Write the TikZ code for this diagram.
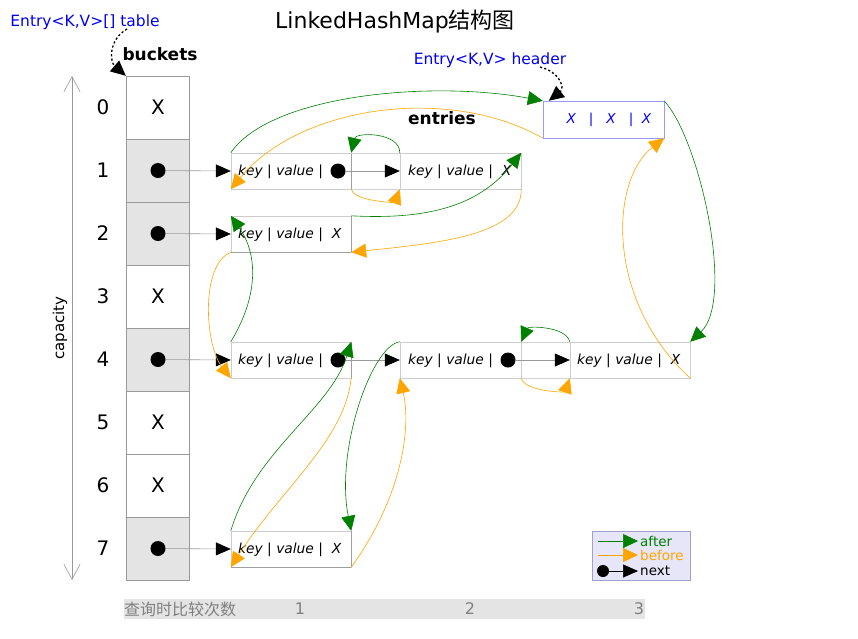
\documentclass[tikz,border=0pt]{standalone}
\usepackage{fontspec}
\setmainfont{DejaVu Sans}
\newfontfamily\cjk{Noto Sans CJK SC}
\usetikzlibrary{arrows.meta}
\definecolor{aftergreen}{HTML}{008000}
\definecolor{beforeorange}{HTML}{FFA500}
\definecolor{cellgray}{HTML}{E4E4E4}
\definecolor{linegray}{HTML}{999999}
\definecolor{txtblue}{HTML}{0000EE}
\definecolor{hdrborder}{HTML}{9999FF}
\definecolor{legendfill}{HTML}{E6E6F8}
\definecolor{legendborder}{HTML}{A0A0C8}
\definecolor{bartext}{HTML}{808080}
\tikzset{
  cell/.style={draw=linegray, fill=white, minimum width=63pt, minimum height=63pt, inner sep=0pt, font=\fontsize{20}{20}\selectfont},
  fullcell/.style={cell, fill=cellgray},
  idx/.style={inner sep=0pt, font=\fontsize{20}{20}\selectfont},
  entrybox/.style={draw=gray!40, fill=white, minimum height=36pt, minimum width=#1, inner sep=0pt},
  entrytext/.style={anchor=west, inner sep=0pt, font=\fontsize{13.8}{13.8}\selectfont\itshape},
  dotnode/.style={circle, fill=black, minimum size=15pt, inner sep=0pt},
  nextarrow/.style={draw=linegray, line width=0.6pt, -{Triangle[length=15pt,width=13pt,color=black]}},
  afterline/.style={draw=aftergreen, line width=0.6pt, -{Triangle[length=15pt,width=14pt]}},
  beforeline/.style={draw=beforeorange, line width=0.6pt, -{Triangle[length=15pt,width=14pt]}},
  dotarrow/.style={draw=black, line width=1.3pt, dash pattern=on 2.2pt off 2.2pt, -{Triangle[length=15pt,width=14pt]}},
  bluetext/.style={text=txtblue, inner sep=0pt, font=\fontsize{15.5}{15.5}\selectfont},
  boldtext/.style={inner sep=0pt, font=\fontsize{17}{17}\selectfont\bfseries},
  legtext/.style={anchor=west, inner sep=0pt, font=\fontsize{13.5}{13.5}\selectfont},
  bartxt/.style={inner sep=0pt, text=bartext, font=\fontsize{16}{16}\selectfont}
}
\begin{document}
\begin{tikzpicture}[x=1pt,y=-1pt]
\useasboundingbox (0,0) rectangle (858,638);

% title and labels
\node[inner sep=0pt, font=\fontsize{22}{22}\selectfont] (title) at (395,22) {LinkedHashMap{\cjk 结构图}};
\node[bluetext] (tbl) at (85,22) {Entry<K,V>[] table};
\node[boldtext] (buckets) at (160,54) {buckets};
\node[bluetext] (hdrlabel) at (490,60) {Entry<K,V> header};
\node[boldtext] (entries) at (442,118) {entries};

% buckets
\foreach \i/\st in {0/cell,1/fullcell,2/fullcell,3/cell,4/fullcell,5/cell,6/cell,7/fullcell}{
  \node[\st] (b\i) at (157.5,{107.5+63*\i}) {};
  \node[idx] (n\i) at (103,{107.5+63*\i}) {\i};
}
\foreach \i in {0,3,5,6}{
  \node[idx] (bx\i) at (158,{107.5+63*\i}) {X};
}
\node[dotnode] (bd1) at (158,170.5) {};
\node[dotnode] (bd2) at (158,233.5) {};
\node[dotnode] (bd4) at (158,359.5) {};
\node[dotnode] (bd7) at (158,548.5) {};

% capacity
\coordinate (captop) at (72,76);
\coordinate (capbot) at (72,580);
\draw[linegray, line width=0.6pt, {Straight Barb[length=15pt,width=16pt]}-{Straight Barb[length=15pt,width=16pt]}] (captop) -- (capbot);
\node[rotate=90, inner sep=0pt, font=\fontsize{15}{15}\selectfont] (cap) at (60,328) {capacity};

% header entry
\node[draw=hdrborder, fill=white, minimum width=121pt, minimum height=37pt, inner sep=0pt] (hdr) at (603.5,119.5) {};
\node[inner sep=0pt, text=txtblue, font=\fontsize{13.5}{13.5}\selectfont] (hdrtext) at (609,120) {\textit{X}~~~|~~~\textit{X}~~~|~~\textit{X}};

% entries
\node[entrybox=120pt] (e1a) at (291,171) {};
\node[entrybox=121pt] (e1b) at (460.5,171) {};
\node[entrybox=120pt] (e2a) at (291,234) {};
\node[entrybox=120pt] (e4a) at (291,360) {};
\node[entrybox=121pt] (e4b) at (460.5,360) {};
\node[entrybox=120pt] (e4c) at (630,360) {};
\node[entrybox=120pt] (e7a) at (291,549) {};
\foreach \e in {e1a,e2a,e4a,e7a}{
  \draw[gray!75, line width=0.8pt] (\e.north east) -- (\e.south east);
}
\draw[gray!75, line width=0.8pt] (e2a.south west) -- (e2a.south east);
\draw[gray!75, line width=0.8pt] (e7a.south west) -- (e7a.south east);
\draw[gray!35] (e1a.north east) -- (e1b.north west) (e1a.south east) -- (e1b.south west);
\draw[gray!35] (e4b.north east) -- (e4c.north west) (e4b.south east) -- (e4c.south west);

\node[entrytext] (t1a) at (238,172) {key | value |};
\node[entrytext] (t1b) at (408,172) {key | value |~~X};
\node[entrytext] (t2a) at (238,235) {key | value |~~X};
\node[entrytext] (t4a) at (238,361) {key | value |};
\node[entrytext] (t4b) at (408,361) {key | value |};
\node[entrytext] (t4c) at (577,361) {key | value |~~X};
\node[entrytext] (t7a) at (238,550) {key | value |~~X};
\node[dotnode] (d1a) at (338,171) {};
\node[dotnode] (d4a) at (338,360) {};
\node[dotnode] (d4b) at (508,360) {};

% next pointers
\draw[nextarrow] (bd1) -- (e1a.west);
\draw[nextarrow] (bd2) -- (e2a.west);
\draw[nextarrow] (bd4) -- (e4a.west);
\draw[nextarrow] (bd7) -- (e7a.west);
\draw[nextarrow] (d1a) -- (e1b.west);
\draw[nextarrow] (d4a) -- (e4b.west);
\draw[nextarrow] (d4b) -- (e4c.west);

% after chain (green)
\draw[afterline] (e1a.north west) .. controls (270,95) and (430,80) .. (hdr.north west);
\draw[afterline] (hdr.north east) .. controls (700,140) and (735,300) .. (e4c.north east);
\draw[afterline] (e4c.north west) .. controls (566,326) and (528,326) .. (e4b.north east);
\draw[afterline] (e4b.north west) .. controls (372,345) and (335,450) .. (e7a.north east);
\draw[afterline] (e7a.north west) .. controls (255,450) and (330,410) .. (e4a.north east);
\draw[afterline] (e4a.north west) .. controls (262,290) and (255,250) .. (e2a.north west);
\draw[afterline] (e2a.north east) .. controls (430,220) and (480,205) .. (e1b.north east);
\draw[afterline] (e1b.north west) .. controls (400,132) and (356,132) .. (e1a.north east);

% before chain (orange)
\draw[beforeline] (hdr.south west) .. controls (450,85) and (300,105) .. (e1a.south west);
\draw[beforeline] (e1a.south east) .. controls (355,202) and (395,202) .. (e1b.south west);
\draw[beforeline] (e1b.south east) .. controls (522,235) and (440,243) .. (e2a.south east);
\draw[beforeline] (e2a.south west) .. controls (200,265) and (205,345) .. (e4a.south west);
\draw[beforeline] (e4a.south east) .. controls (345,440) and (280,490) .. (e7a.south west);
\draw[beforeline] (e7a.south east) .. controls (400,500) and (412,430) .. (e4b.south west);
\draw[beforeline] (e4b.south east) .. controls (525,392) and (565,392) .. (e4c.south west);
\draw[beforeline] (e4c.south east) .. controls (605,300) and (610,180) .. (hdr.south east);

% dotted pointers
\coordinate (tblfoot) at (127,29);
\draw[dotarrow] (tblfoot) .. controls (108,40) and (110,62) .. (b0.north west);
\coordinate (hdrfoot) at (540,67);
\draw[dotarrow] (hdrfoot) .. controls (560,72) and (565,88) .. ([xshift=6pt]hdr.north west);

% legend
\node[draw=legendborder, fill=legendfill, minimum width=98pt, minimum height=49pt, inner sep=0pt] (legend) at (641,555.5) {};
\coordinate (la1) at (598,541);
\coordinate (la2) at (638,541);
\coordinate (lb1) at (598,555);
\coordinate (lb2) at (638,555);
\node[dotnode, minimum size=12pt] (ldot) at (603,571) {};
\coordinate (ln2) at (638,571);
\draw[afterline] (la1) -- (la2);
\draw[beforeline] (lb1) -- (lb2);
\draw[nextarrow, draw=black] (ldot) -- (ln2);
\node[legtext, text=aftergreen] (lafter) at (640,541) {after};
\node[legtext, text=beforeorange] (lbefore) at (640,555) {before};
\node[legtext] (lnext) at (640,571) {next};

% bottom bar
\node[fill=cellgray, minimum width=521pt, minimum height=20pt, inner sep=0pt] (bar) at (384.5,609) {};
\node[bartxt, anchor=west, font=\fontsize{16}{16}\selectfont\cjk] (barlabel) at (124,609) {查询时比较次数};
\node[bartxt] (bar1) at (300,609) {1};
\node[bartxt] (bar2) at (470,609) {2};
\node[bartxt] (bar3) at (639,609) {3};
\end{tikzpicture}
\end{document}
